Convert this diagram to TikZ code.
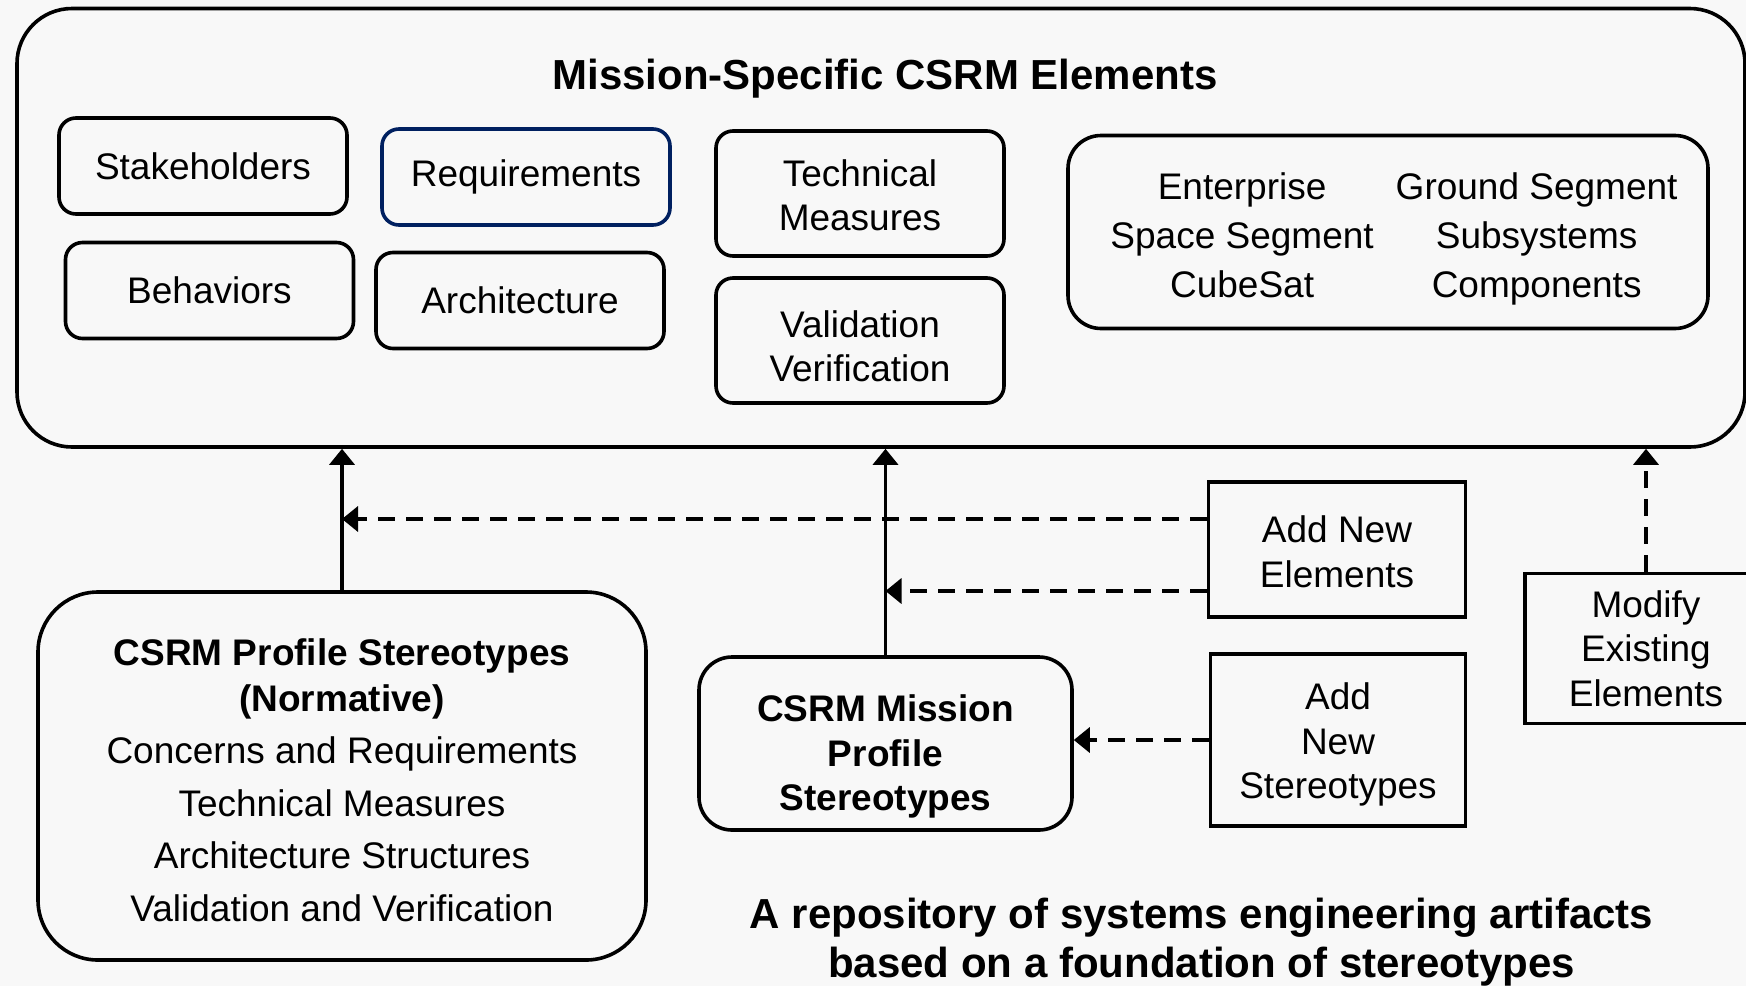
\documentclass[tikz,border=0pt]{standalone}
\usepackage{fontspec}
\setmainfont{Liberation Sans}
\usetikzlibrary{arrows.meta}
\definecolor{bgcol}{RGB}{248,248,248}
\definecolor{reqblue}{RGB}{0,32,96}

\begin{document}
\begin{tikzpicture}[x=1pt,y=-1pt,line width=3.6pt,
 >={Triangle[width=25pt,length=16pt]},
 elem box/.style={draw, rounded corners=17pt, align=center, minimum width=288pt,
   minimum height=96pt, font=\fontsize{37}{44.5}\selectfont},
 add box/.style={draw, align=center, font=\fontsize{37}{44.5}\selectfont},
 add link/.style={->, dash pattern=on 16.5pt off 11.5pt},
 bold text/.style={align=center, font=\fontsize{42}{49}\selectfont\bfseries}]
  \clip (0,0) rectangle (1746,986);
  \fill[bgcol] (0,0) rectangle (1746,986);

  \node (top) [draw, rounded corners=55pt, minimum width=1728pt, minimum height=438.5pt] at (881,227.75) {};
  \node (title) [bold text, anchor=base] at (885,89.6) {Mission-Specific CSRM Elements};

  \node (stake) [elem box] at (203,166) {Stakeholders};
  \node (req) [elem box, draw=reqblue] at (526,177) {Requirements};
  \node (behav) [elem box] at (209.5,290.5) {Behaviors};
  \node (arch) [elem box] at (520,300.5) {Architecture};
  \node (tech) [elem box, minimum height=125pt] at (860,193.5) {\rule{0pt}{30pt}Technical\\Measures};
  \node (valid) [elem box, minimum height=125pt] at (860,340.5) {\rule{0pt}{38pt}Validation\\Verification};
  \node (segs) [elem box, rounded corners=33pt, minimum width=640pt, minimum height=193pt] at (1388,232)
    {\hspace*{12pt}\renewcommand{\arraystretch}{1.11}\setlength{\tabcolsep}{11pt}%
     \begin{tabular}{cc}
      \rule{0pt}{48pt}Enterprise & Ground Segment\\
      Space Segment & Subsystems\\
      CubeSat & Components
     \end{tabular}};

  \node (prof) [elem box, rounded corners=60pt, minimum width=608pt, minimum height=368pt] at (342,776)
    {\rule{0pt}{35pt}\textbf{CSRM Profile Stereotypes}\\[1.5pt]\textbf{(Normative)}\\[7.5pt]Concerns and Requirements\\[8pt]
     Technical Measures\\[8pt]Architecture Structures\\[8pt]Validation and Verification};
  \node (mission) [elem box, rounded corners=33pt, minimum width=373pt, minimum height=173pt,
    font=\fontsize{37}{44.5}\selectfont\bfseries] at (885.5,743.5) {\rule{0pt}{53pt}CSRM Mission\\Profile\\Stereotypes};

  \node (addel) [add box, minimum width=257pt, minimum height=135pt] at (1337,549.5) {\rule{0pt}{31pt}Add New\\Elements};
  \node (addst) [add box, minimum width=255pt, minimum height=172.5pt] at (1338,740) {\rule{0pt}{36pt}Add\\New\\Stereotypes};
  \node (modify) [add box, minimum width=242pt, minimum height=150pt] at (1646,648.5) {Modify\\Existing\\Elements};

  \node (repo) [bold text] at (1201.5,942) {A repository of systems engineering artifacts\\based on a foundation of stereotypes};

  \foreach \s in {prof, mission}
   \draw[->] (\s.north) -- (\s.north |- top.south);

  \coordinate (e1) at ([yshift=30.5pt]addel.west);
  \coordinate (e2) at ([yshift=-41.5pt]addel.west);
  \draw[add link] (e1) -- (e1 -| prof.north);
  \draw[add link] (e2) -- (e2 -| mission.north);
  \draw[add link] (addst.west) -- (addst.west -| mission.east);
  \draw[add link] (modify.north) -- (modify.north |- top.south);
\end{tikzpicture}
\end{document}
